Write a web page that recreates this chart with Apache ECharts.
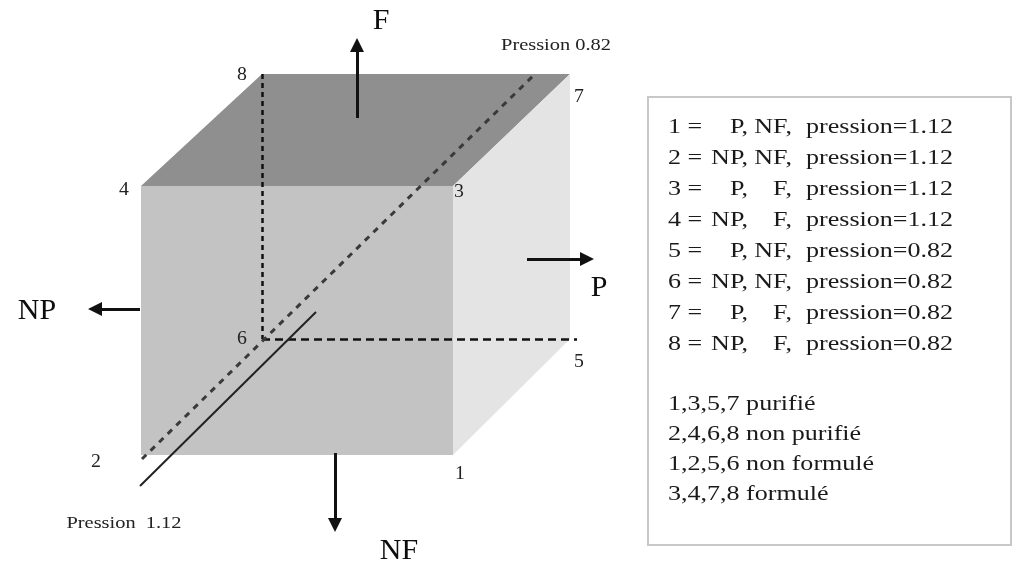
<!DOCTYPE html>
<html>
<head>
<meta charset="utf-8">
<script src="https://cdn.jsdelivr.net/npm/echarts@6/dist/echarts.min.js"></script>
<style>
    html, body { margin: 0; padding: 0; background: #fff; }
    #chart { width: 1015px; height: 573px; }
</style>
</head>
<body>
<div id="chart"></div>
<script>
// sommets du cube (repère de la figure, y vers le bas)
const vertexIds = [1, 2, 3, 4, 5, 6, 7, 8];
const vertexX = [453, 141, 453, 141, 570, 262, 570, 262];
const vertexY = [455, 455, 186, 186, 339, 339, 74, 74];

// faces visibles : haut, avant, droite
const faceVertices = [[4, 3, 7, 8], [2, 1, 3, 4], [1, 5, 7, 3]];

// arêtes cachées
const hiddenEdges = [[8, 6], [6, 5]];

// axe de pression
const pressionDashed = [[142, 459], [535, 74]];
const pressionSolid = [[140, 486], [316, 312]];
const pressionLabels = ['Pression 0.82', 'Pression  1.12'];

// facteurs
const factorNames = ['F', 'NP', 'P', 'NF'];
const arrowFrom = [[357, 118], [140, 309], [527, 259], [335, 453]];
const arrowTo = [[357, 45], [95, 309], [587, 259], [335, 525]];

// légende
const rowIds = ['1 =', '2 =', '3 =', '4 =', '5 =', '6 =', '7 =', '8 ='];
const rowP = ['P,', 'NP,', 'P,', 'NP,', 'P,', 'NP,', 'P,', 'NP,'];
const rowF = ['NF,', 'NF,', 'F,', 'F,', 'NF,', 'NF,', 'F,', 'F,'];
const rowPression = ['pression=1.12', 'pression=1.12', 'pression=1.12', 'pression=1.12',
    'pression=0.82', 'pression=0.82', 'pression=0.82', 'pression=0.82'];
const groupLines = ['1,3,5,7 purifié', '2,4,6,8 non purifié', '1,2,5,6 non formulé', '3,4,7,8 formulé'];

// ---- styles / mise en page ----
const faceColors = ['#8f8f8f', '#c3c3c3', '#e4e4e4'];
const vertexLabelOffset = {
    1: [2, 19], 2: [-50, 7], 3: [1, 6], 4: [-22, 4],
    5: [4, 23], 6: [-25, 0], 7: [4, 23], 8: [-25, 1]
};
const factorLabelAt = [[381, 21], [37, 311], [599, 288], [399, 551]];
const pressionLabelAt = [[556, 46], [124, 524]];
const serif = '"Liberation Serif", "Times New Roman", serif';

const vx = id => vertexX[id - 1];
const vy = id => vertexY[id - 1];

function textSeries(items) {
    // items : [x, y, texte, police, alignement, scaleX, couleur]
    return {
        type: 'custom',
        coordinateSystem: 'cartesian2d',
        silent: true,
        data: items.map((it, i) => [it[0], it[1], i]),
        renderItem: function (params, api) {
            const it = items[params.dataIndex];
            const p = api.coord([it[0], it[1]]);
            return {
                type: 'text',
                x: p[0],
                y: p[1],
                scaleX: it[5] || 1,
                style: {
                    text: it[2],
                    font: it[3],
                    fill: it[6] || '#1a1a1a',
                    align: it[4] || 'center',
                    verticalAlign: 'middle'
                }
            };
        }
    };
}

const chart = echarts.init(document.getElementById('chart'));

const labelItems = [];
vertexIds.forEach(id => {
    const o = vertexLabelOffset[id];
    labelItems.push([vx(id) + o[0], vy(id) + o[1], String(id), '18px ' + serif, 'left', 1.1, '#222']);
});
factorNames.forEach((n, i) => {
    labelItems.push([factorLabelAt[i][0], factorLabelAt[i][1], n, '30px ' + serif, 'center', 1, '#0d0d0d']);
});
pressionLabels.forEach((t, i) => {
    labelItems.push([pressionLabelAt[i][0], pressionLabelAt[i][1], t, '17px ' + serif, 'center', 1.2, '#222']);
});

const legendFont = '21px ' + serif;
const legendScale = 1.24;
rowIds.forEach((t, i) => {
    const y = 127 + i * 31;
    labelItems.push([668, y, t, legendFont, 'left', legendScale]);
    labelItems.push([748, y, rowP[i], legendFont, 'right', legendScale]);
    labelItems.push([792, y, rowF[i], legendFont, 'right', legendScale]);
    labelItems.push([806, y, rowPression[i], legendFont, 'left', legendScale]);
});
groupLines.forEach((t, i) => {
    labelItems.push([668, 404 + i * 30, t, legendFont, 'left', legendScale]);
});

const option = {
    animation: false,
    grid: { left: 0, right: 0, top: 0, bottom: 0 },
    xAxis: { type: 'value', min: 0, max: 1015, show: false },
    yAxis: { type: 'value', min: 0, max: 573, inverse: true, show: false },
    series: [
        {
            // faces du cube
            type: 'custom',
            coordinateSystem: 'cartesian2d',
            silent: true,
            data: faceVertices.map((f, i) => [vx(f[0]), vy(f[0]), i]),
            renderItem: function (params, api) {
                const pts = faceVertices[params.dataIndex].map(id => api.coord([vx(id), vy(id)]));
                return { type: 'polygon', shape: { points: pts }, style: { fill: faceColors[params.dataIndex] } };
            }
        },
        {
            // cadre de la légende
            type: 'custom',
            coordinateSystem: 'cartesian2d',
            silent: true,
            data: [[648, 97]],
            renderItem: function (params, api) {
                const a = api.coord([648, 97]);
                const b = api.coord([1011, 545]);
                return {
                    type: 'rect',
                    shape: { x: a[0], y: a[1], width: b[0] - a[0], height: b[1] - a[1] },
                    style: { fill: 'none', stroke: '#c8c8c8', lineWidth: 2 }
                };
            }
        },
        {
            // arêtes cachées et axe de pression
            type: 'lines',
            coordinateSystem: 'cartesian2d',
            silent: true,
            data: [
                {
                    coords: [[vx(hiddenEdges[0][0]), vy(hiddenEdges[0][0])], [vx(hiddenEdges[0][1]), vy(hiddenEdges[0][1])]],
                    lineStyle: { color: '#111', width: 2.5, type: [5, 4], opacity: 1 }
                },
                {
                    coords: [[vx(hiddenEdges[1][0]), vy(hiddenEdges[1][0])], [vx(hiddenEdges[1][1]) + 7, vy(hiddenEdges[1][1])]],
                    lineStyle: { color: '#111', width: 2.5, type: [8, 5], opacity: 1 }
                },
                { coords: pressionDashed, lineStyle: { color: '#3a3a3a', width: 3, type: [6, 6], opacity: 1 } },
                { coords: pressionSolid, lineStyle: { color: '#222', width: 2, type: 'solid', opacity: 1 } }
            ]
        },
        {
            // flèches des facteurs
            type: 'lines',
            coordinateSystem: 'cartesian2d',
            silent: true,
            symbol: ['none', 'triangle'],
            symbolSize: 14,
            lineStyle: { color: '#111', width: 3, opacity: 1 },
            itemStyle: { color: '#111' },
            data: factorNames.map((n, i) => ({ name: n, coords: [arrowFrom[i], arrowTo[i]] }))
        },
        textSeries(labelItems)
    ]
};
chart.setOption(option);

window.addEventListener('resize', function () {
    chart.resize();
});
</script>
</body>
</html>
